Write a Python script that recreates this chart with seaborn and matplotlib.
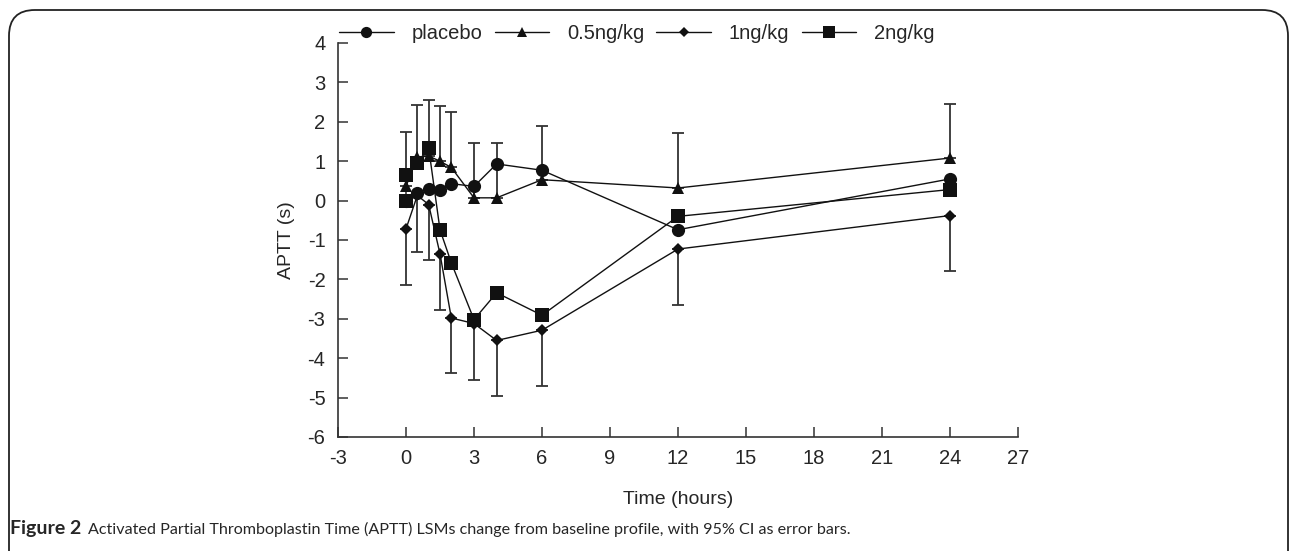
import numpy as np
import pandas as pd
import matplotlib
matplotlib.use("Agg")
import matplotlib.pyplot as plt
from matplotlib.lines import Line2D
from matplotlib.patches import FancyBboxPatch
import seaborn as sns

# Data (LSM change from baseline, seconds)
times = [0, 0.5, 1, 1.5, 2, 3, 4, 6, 12, 24]
placebo = [0.0, 0.19, 0.30, 0.28, 0.43, 0.36, 0.93, 0.77, -0.74, 0.55]
dose_05 = [0.36, 1.10, 1.13, 1.00, 0.84, 0.07, 0.07, 0.53, 0.32, 1.08]
dose_05_upper = [1.75, 2.42, 2.55, 2.40, 2.25, 1.46, 1.46, 1.90, 1.72, 2.46]
dose_1 = [-0.72, 0.13, -0.10, -1.35, -2.98, -3.12, -3.55, -3.29, -1.23, -0.38]
dose_1_lower = [-2.15, -1.31, -1.50, -2.77, -4.37, -4.56, -4.97, -4.71, -2.66, -1.79]
times_2 = [0, 0, 0.5, 1, 1.5, 2, 3, 4, 6, 12, 24]
dose_2 = [0.0, 0.66, 0.96, 1.34, -0.74, -1.58, -3.02, -2.34, -2.91, -0.40, 0.28]

groups = ["placebo", "0.5ng/kg", "1ng/kg", "2ng/kg"]
markers = {"placebo": "o", "0.5ng/kg": "^", "1ng/kg": "D", "2ng/kg": "s"}
msizes = {"placebo": 9.5, "0.5ng/kg": 9, "1ng/kg": 6.5, "2ng/kg": 9.5}

df = pd.concat([
    pd.DataFrame({"time": times, "aptt": placebo, "group": "placebo"}),
    pd.DataFrame({"time": times, "aptt": dose_05, "group": "0.5ng/kg"}),
    pd.DataFrame({"time": times, "aptt": dose_1, "group": "1ng/kg"}),
    pd.DataFrame({"time": times_2, "aptt": dose_2, "group": "2ng/kg"}),
])

sns.set_theme(style="ticks")
plt.rcParams['font.family'] = ['Liberation Sans', 'DejaVu Sans']
plt.rcParams['axes.unicode_minus'] = False

fig = plt.figure(figsize=(12.93, 5.51), dpi=100)
ax = fig.add_axes([0.2614, 0.2069, 0.5259, 0.7151])

col = "#111111"
# error bars (one-sided, as in the original)
ax.errorbar(times, dose_05, yerr=[np.zeros(len(times)), np.array(dose_05_upper) - np.array(dose_05)],
            fmt="none", ecolor="#333333", elinewidth=1.3, capsize=4, capthick=1.3, zorder=1)
ax.errorbar(times, dose_1, yerr=[np.array(dose_1) - np.array(dose_1_lower), np.zeros(len(times))],
            fmt="none", ecolor="#333333", elinewidth=1.3, capsize=4, capthick=1.3, zorder=1)

for g in groups:
    sub = df[df["group"] == g]
    sns.lineplot(data=sub, x="time", y="aptt", ax=ax, color=col, estimator=None,
                 marker=markers[g], markersize=msizes[g], markeredgewidth=0,
                 linewidth=1.0, legend=False, zorder=3)

ax.set_xlim(-3, 27)
ax.set_ylim(-6, 4)
ax.set_xticks(np.arange(-3, 28, 3))
ax.set_yticks(np.arange(-6, 5, 1))
ax.tick_params(direction="in", length=7, width=1.1, color="#333333", labelsize=14.5, pad=9)
for s in ["top", "right"]:
    ax.spines[s].set_visible(False)
for s in ["left", "bottom"]:
    ax.spines[s].set_linewidth(1.2)
    ax.spines[s].set_color("#333333")
ax.set_xlabel("Time (hours)", fontsize=14, labelpad=16)
ax.set_ylabel("APTT (s)", fontsize=14, labelpad=9)

handles = [Line2D([], [], color=col, lw=1.0, marker=markers[g], markersize=msizes[g] * 0.85,
                  markeredgewidth=0) for g in groups]
fig.legend(handles, groups, loc="center left", bbox_to_anchor=(0.2483, 0.939), ncol=4,
           frameon=False, fontsize=14.5, handlelength=2.7, handletextpad=0.9, columnspacing=0.6)

# caption and frame
cap_font = ["Lato", "DejaVu Sans"]
fig.text(0.008, 0.030, "Figure 2", fontsize=14, fontweight="bold", family=cap_font)
fig.text(0.068, 0.030, "Activated Partial Thromboplastin Time (APTT) LSMs change from baseline profile, with 95% CI as error bars.",
         fontsize=11.6, family=cap_font)
frame = FancyBboxPatch((9 / 1293, -0.1), 1 - 14 / 1293, 1.1 - 10 / 551,
                       boxstyle="round,pad=0,rounding_size=0.02", transform=fig.transFigure,
                       fill=False, edgecolor="#222222", linewidth=1.3, mutation_aspect=1293 / 551)
fig.patches.append(frame)

fig.savefig("out.png", dpi=100)
